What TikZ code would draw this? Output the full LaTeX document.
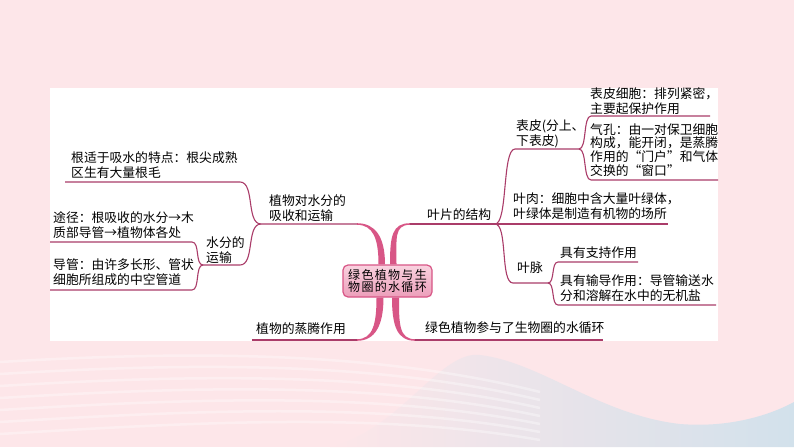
\documentclass[tikz,border=0pt]{standalone}
\usepackage{fontspec}
\newfontfamily\cjk{Noto Sans CJK SC}
\newfontfamily\cjkhub[LetterSpace=11]{Noto Sans CJK SC}
\usetikzlibrary{arrows.meta}
\definecolor{bgpink}{RGB}{253,230,233}
\definecolor{wavecol}{RGB}{210,225,235}
\definecolor{linecol}{RGB}{170,60,105}
\definecolor{trunkcol}{RGB}{216,86,134}
\definecolor{hubtop}{RGB}{249,210,223}
\definecolor{hubbot}{RGB}{236,158,186}
\tikzset{
	txt/.style={font=\cjk\fontsize{12.8}{14.5}\selectfont, anchor=west, align=left, inner sep=0pt},
	conn/.style={draw=linecol, line width=1.1pt},
	trunk/.style={fill=trunkcol},
	hubbox/.style={draw=trunkcol, line width=1.2pt, rounded corners=5pt, top color=hubtop, bottom color=hubbot,
		minimum width=89pt, minimum height=32pt, inner sep=2pt, align=center, font=\cjkhub\fontsize{12}{12.2}\selectfont}
}
\begin{document}
\begin{tikzpicture}[x=1pt,y=-1pt]
	\useasboundingbox (0,0) rectangle (794,447);
	\fill[bgpink] (0,0) rectangle (794,447);
	\shade[left color=bgpink, right color=wavecol] (330,447) .. controls (400,430) and (440,350) .. (480,355) .. controls (540,362) and (600,415) .. (680,424) .. controls (730,428) and (770,415) .. (794,402) -- (794,447) -- cycle;
	\foreach \i in {0,...,6}
		\draw[white, opacity=0.35, line width=2.5pt] (0,362+12*\i) .. controls (200,350+12*\i) and (380,352+10*\i) .. (540,392+8*\i);
	\fill[white] (50,88) rectangle (718,341);

	\node[hubbox] (hub) at (387.5,281) {绿色植物与生\\物圈的水循环};

	\node[txt] (root) at (71,165) {根适于吸水的特点：根尖成熟\\区生有大量根毛};
	\node[txt] (route) at (53,225) {途径：根吸收的水分→木\\质部导管→植物体各处};
	\node[txt] (vessel) at (53,272) {导管：由许多长形、管状\\细胞所组成的中空管道};
	\node[txt] (water) at (206,250) {水分的\\运输};
	\node[txt] (absorb) at (269,208) {植物对水分的\\吸收和运输};
	\node[txt] (transp) at (256,329) {植物的蒸腾作用};
	\node[txt] (blade) at (427,215) {叶片的结构};
	\node[txt] (epi) at (516,134) {表皮(分上、\\下表皮)};
	\node[txt] (cells) at (590,101) {表皮细胞：排列紧密，\\主要起保护作用};
	\node[txt, font=\cjk\fontsize{12.8}{13.8}\selectfont] (stoma) at (590,150) {气孔：由一对保卫细胞\\构成，能开闭，是蒸腾\\作用的“门户”和气体\\交换的“窗口”};
	\node[txt] (meso) at (513,206) {叶肉：细胞中含大量叶绿体，\\叶绿体是制造有机物的场所};
	\node[txt] (vein) at (517,268) {叶脉};
	\node[txt] (support) at (560,253) {具有支持作用};
	\node[txt] (conduct) at (560,288) {具有输导作用：导管输送水\\分和溶解在水中的无机盐};
	\node[txt] (cycle) at (425,328) {绿色植物参与了生物圈的水循环};

	\coordinate (rootL) at (65,182);
	\coordinate (rootR) at (240,182);
	\coordinate (routeL) at (50,242);
	\coordinate (routeR) at (192,242);
	\coordinate (vesselL) at (50,290);
	\coordinate (vesselR) at (192,290);
	\coordinate (waterL) at (203,265);
	\coordinate (waterR) at (240,265);
	\coordinate (absorbL) at (261,224);
	\coordinate (absorbR) at (357,224);
	\coordinate (transpL) at (252,340);
	\coordinate (transpR) at (357,340);
	\coordinate (bladeL) at (410,224);
	\coordinate (bladeR) at (495,224);
	\coordinate (mesoR) at (668,224);
	\coordinate (epiL) at (515,149);
	\coordinate (epiR) at (579,149);
	\coordinate (cellsL) at (591,116);
	\coordinate (cellsR) at (710,116);
	\coordinate (stomaL) at (591,180);
	\coordinate (stomaR) at (718,180);
	\coordinate (veinL) at (513,283);
	\coordinate (veinR) at (548,283);
	\coordinate (supportL) at (558,262);
	\coordinate (supportR) at (638,262);
	\coordinate (conductL) at (558,305);
	\coordinate (conductR) at (716,305);
	\coordinate (cycleL) at (415,340);
	\coordinate (cycleR) at (603,340);

	\fill[trunk] ([xshift=-9pt]hub.north) .. controls +(0,-26) and +(16,0) .. ([yshift=-0.8pt]absorbR) -- ([yshift=0.8pt]absorbR) .. controls +(18,0) and +(0,-28) .. ([xshift=-2.5pt]hub.north) -- cycle;
	\fill[trunk] ([xshift=9pt]hub.north) .. controls +(0,-26) and +(-16,0) .. ([yshift=-0.8pt]bladeL) -- ([yshift=0.8pt]bladeL) .. controls +(-18,0) and +(0,-28) .. ([xshift=2.5pt]hub.north) -- cycle;
	\fill[trunk] ([xshift=-11pt]hub.south) .. controls +(0,26) and +(16,0) .. ([yshift=0.8pt]transpR) -- ([yshift=-0.8pt]transpR) .. controls +(18,0) and +(0,28) .. ([xshift=-4pt]hub.south) -- cycle;
	\fill[trunk] ([xshift=11.5pt]hub.south) .. controls +(0,26) and +(-16,0) .. ([yshift=0.8pt]cycleL) -- ([yshift=-0.8pt]cycleL) .. controls +(-18,0) and +(0,28) .. ([xshift=4.5pt]hub.south) -- cycle;

	\draw[conn] (rootL) -- (rootR) .. controls +(15,0) and +(-15,0) .. (absorbL) -- (absorbR);
	\draw[conn] (waterL) -- (waterR) .. controls +(15,0) and +(-15,0) .. (absorbL);
	\draw[conn] (routeL) -- (routeR) .. controls +(8,0) and +(-8,0) .. (waterL);
	\draw[conn] (vesselL) -- (vesselR) .. controls +(8,0) and +(-8,0) .. (waterL);
	\draw[conn] (transpL) -- (transpR);
	\draw[conn] (bladeL) -- (bladeR) -- (mesoR);
	\draw[conn] (bladeR) .. controls +(13,0) and +(-13,0) .. (epiL) -- (epiR);
	\draw[conn] (bladeR) .. controls +(13,0) and +(-13,0) .. (veinL) -- (veinR);
	\draw[conn] (epiR) .. controls +(8,0) and +(-8,0) .. (cellsL) -- (cellsR);
	\draw[conn] (epiR) .. controls +(8,0) and +(-8,0) .. (stomaL) -- (stomaR);
	\draw[conn] (veinR) .. controls +(7,0) and +(-7,0) .. (supportL) -- (supportR);
	\draw[conn] (veinR) .. controls +(7,0) and +(-7,0) .. (conductL) -- (conductR);
	\draw[conn] (cycleL) -- (cycleR);
\end{tikzpicture}
\end{document}
